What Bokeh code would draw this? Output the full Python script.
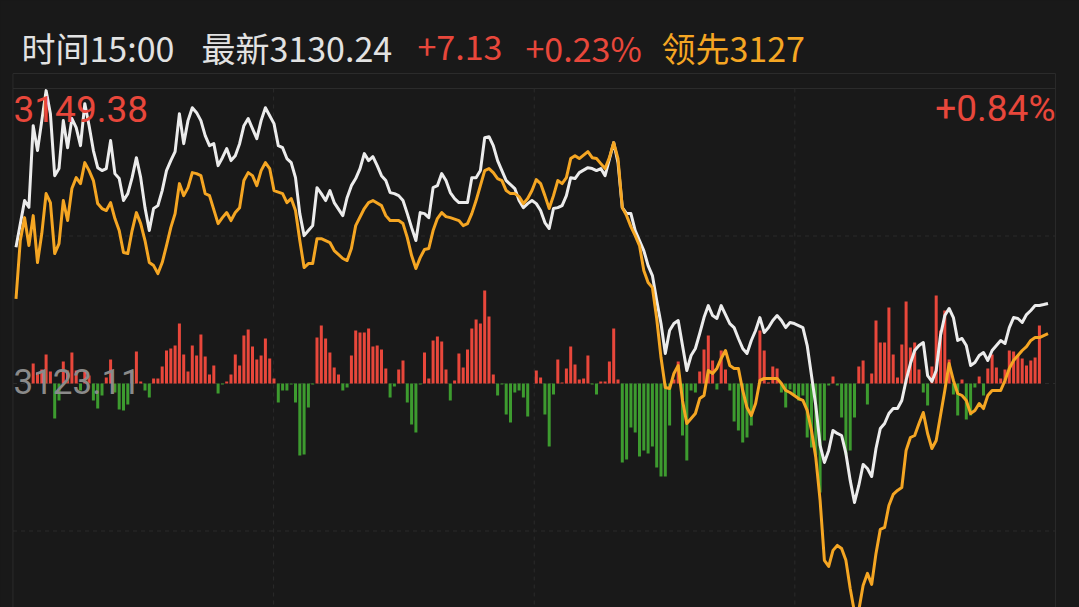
from bokeh.plotting import figure
from bokeh.models import Range1d, Label, ColumnDataSource
from bokeh.embed import file_html
from bokeh.resources import INLINE

# ---------------- data ----------------
prev_close = 3123.11
top_price = 3149.38          # +0.84%
latest = 3130.24
change = "+7.13"
change_pct = "+0.23%"
lead_text = "领先3127"
time_text = "时间15:00"
latest_text = "最新3130.24"
top_pct_text = "+0.84%"

white_min = [0, 2, 3, 4, 5, 6, 7, 8, 9, 10, 11, 12, 13, 14, 15, 16, 17, 18, 19, 20,
             21, 22, 23, 24, 25, 26, 27, 28, 29, 30, 31, 32, 33, 34, 35, 36, 37, 38, 39, 40,
             41, 42, 43, 44, 45, 46, 47, 48, 49, 50, 51, 52, 53, 54, 56, 57, 58, 59, 60, 61,
             62, 63, 64, 65, 66, 67, 68, 69, 70, 71, 72, 73, 74, 76, 77, 78, 79, 80, 81, 82,
             83, 84, 85, 86, 87, 88, 89, 90, 91, 92, 93, 94, 95, 96, 97, 98, 99, 100, 101, 102,
             103, 105, 106, 107, 108, 109, 110, 111, 112, 113, 114, 116, 117, 118, 119, 120, 121, 122, 123, 124,
             125, 126, 127, 128, 129, 130, 131, 133, 134, 135, 136, 137, 139, 140, 141, 142, 143, 144, 145, 146,
             147, 148, 149, 150, 151, 152, 153, 154, 155, 156, 157, 158, 159, 160, 161, 162, 163, 164, 166, 167,
             168, 169, 170, 171, 172, 173, 174, 175, 176, 177, 178, 179, 180, 181, 183, 184, 185, 186, 187, 188,
             189, 190, 191, 192, 193, 194, 195, 196, 197, 198, 199, 200, 201, 202, 203, 204, 205, 206, 207, 208,
             209, 210, 211, 212, 213, 214, 215, 216, 217, 218, 219, 220, 221, 222, 223, 224, 225, 226, 227, 228,
             229, 230, 231, 232, 233, 234, 235, 236, 237, 238, 239, 240]
white_val = [3135.24, 3139.40, 3138.80, 3146.07, 3143.85, 3146.52, 3149.19, 3147.14, 3141.62, 3142.25,
             3146.52, 3144.11, 3146.70, 3145.89, 3144.29, 3148.03, 3146.07, 3143.85, 3142.33, 3142.07,
             3142.25, 3144.74, 3141.80, 3141.36, 3139.40, 3140.02, 3141.44, 3143.22, 3141.44, 3138.77,
             3136.73, 3138.69, 3138.95, 3140.29, 3142.07, 3142.96, 3143.76, 3147.14, 3144.47, 3146.52,
             3147.67, 3147.23, 3146.52, 3145.18, 3144.29, 3144.47, 3142.51, 3143.22, 3144.03, 3142.96,
             3143.40, 3144.47, 3146.07, 3146.70, 3144.92, 3146.52, 3147.67, 3146.96, 3146.25, 3144.29,
             3144.11, 3143.14, 3142.78, 3141.44, 3138.24, 3136.28, 3136.73, 3137.17, 3140.55, 3140.02,
             3139.40, 3140.29, 3139.22, 3138.06, 3139.66, 3140.73, 3141.36, 3142.25, 3143.58, 3142.96,
             3143.31, 3142.51, 3141.62, 3141.18, 3140.11, 3140.02, 3139.84, 3139.40, 3138.24, 3136.99,
             3135.84, 3138.33, 3138.24, 3137.88, 3140.55, 3140.73, 3141.80, 3141.18, 3140.11, 3139.58,
             3139.22, 3139.22, 3141.44, 3141.44, 3142.07, 3145.00, 3145.09, 3144.29, 3142.96, 3142.07,
             3141.18, 3140.47, 3139.40, 3138.77, 3139.13, 3139.40, 3139.13, 3138.51, 3137.44, 3136.91,
             3138.69, 3138.77, 3138.95, 3139.84, 3141.44, 3141.36, 3141.89, 3142.33, 3142.25, 3142.07,
             3142.25, 3141.62, 3144.56, 3142.78, 3138.77, 3138.24, 3138.24, 3136.73, 3135.84, 3134.95,
             3133.61, 3132.72, 3130.50, 3128.45, 3125.78, 3127.83, 3128.45, 3128.72, 3126.49, 3124.27,
             3125.60, 3126.23, 3127.56, 3128.98, 3130.05, 3129.16, 3128.90, 3130.05, 3128.45, 3128.09,
             3127.12, 3126.23, 3125.78, 3126.94, 3127.83, 3128.98, 3127.65, 3128.09, 3128.72, 3129.16,
             3128.72, 3128.09, 3128.54, 3128.45, 3128.09, 3126.49, 3123.82, 3121.15, 3117.59, 3116.08,
             3117.15, 3118.93, 3118.66, 3118.48, 3116.88, 3114.48, 3112.52, 3114.03, 3115.90, 3115.54,
             3114.83, 3117.32, 3119.10, 3119.55, 3120.44, 3120.88, 3120.88, 3121.60, 3123.38, 3124.89,
             3126.05, 3126.49, 3126.76, 3123.82, 3123.29, 3124.27, 3127.38, 3129.16, 3129.79, 3128.98,
             3126.94, 3127.12, 3126.49, 3124.71, 3124.98, 3125.60, 3125.87, 3125.16, 3126.05, 3126.49,
             3126.94, 3126.67, 3128.09, 3128.98, 3128.90, 3128.54, 3129.25, 3129.61, 3130.05, 3130.05,
             3130.14, 3130.24]

orange_min = [0, 1, 2, 3, 4, 5, 6, 7, 8, 9, 10, 11, 12, 13, 14, 15, 16, 17, 18, 19,
              20, 21, 22, 23, 24, 25, 26, 27, 28, 29, 30, 31, 32, 33, 34, 35, 36, 37, 38, 39,
              40, 41, 42, 43, 44, 45, 47, 48, 49, 50, 51, 52, 53, 54, 55, 56, 57, 58, 59, 60,
              62, 63, 64, 65, 66, 67, 68, 69, 70, 71, 73, 74, 76, 77, 78, 79, 81, 82, 83, 85,
              86, 87, 89, 90, 91, 92, 93, 94, 95, 96, 97, 98, 99, 100, 101, 103, 104, 105, 106, 107,
              108, 109, 110, 111, 112, 113, 114, 115, 116, 117, 118, 119, 120, 121, 122, 123, 124, 125, 126, 127,
              128, 129, 130, 131, 133, 134, 135, 136, 137, 138, 139, 140, 141, 142, 143, 144, 145, 146, 147, 148,
              149, 150, 151, 152, 153, 154, 155, 156, 157, 158, 159, 160, 161, 162, 163, 164, 165, 166, 167, 168,
              169, 170, 171, 172, 173, 174, 176, 177, 178, 179, 180, 182, 183, 184, 185, 186, 187, 188, 189, 190,
              191, 192, 193, 194, 195, 196, 197, 198, 199, 200, 201, 202, 203, 204, 205, 206, 207, 208, 209, 210,
              211, 212, 213, 214, 215, 216, 217, 218, 219, 220, 221, 222, 223, 224, 225, 226, 227, 229, 230, 231,
              232, 233, 234, 235, 236, 237, 238, 240]
orange_val = [3130.65, 3135.84, 3137.88, 3135.39, 3138.06, 3133.88, 3136.46, 3140.02, 3139.22, 3134.68,
              3135.57, 3139.40, 3137.62, 3140.47, 3141.44, 3140.91, 3142.78, 3142.07, 3141.18, 3139.13,
              3138.69, 3138.51, 3139.22, 3137.80, 3136.73, 3134.77, 3134.68, 3136.73, 3138.33, 3137.35,
              3135.84, 3133.88, 3133.61, 3132.90, 3133.88, 3135.39, 3136.99, 3138.24, 3140.91, 3139.84,
              3140.55, 3141.89, 3141.80, 3141.62, 3140.02, 3139.84, 3137.35, 3137.88, 3138.33, 3137.62,
              3138.33, 3138.77, 3141.18, 3141.89, 3141.62, 3140.73, 3142.07, 3142.78, 3142.25, 3140.29,
              3140.02, 3139.22, 3139.58, 3138.51, 3135.84, 3133.43, 3133.79, 3133.79, 3136.01, 3136.01,
              3135.66, 3134.95, 3134.24, 3134.06, 3135.13, 3137.17, 3138.69, 3139.22, 3139.40, 3138.95,
              3138.06, 3137.62, 3137.62, 3137.35, 3136.10, 3134.50, 3133.35, 3134.32, 3135.04, 3135.13,
              3136.73, 3137.80, 3138.33, 3137.97, 3137.88, 3137.62, 3137.17, 3137.35, 3138.24, 3139.40,
              3140.73, 3142.07, 3142.25, 3141.89, 3141.36, 3141.18, 3140.29, 3140.02, 3140.02, 3139.75,
              3139.13, 3139.58, 3140.29, 3141.27, 3140.91, 3139.84, 3138.69, 3139.84, 3141.18, 3140.91,
              3141.44, 3143.14, 3143.40, 3143.14, 3143.76, 3143.22, 3143.14, 3142.69, 3142.25, 3143.22,
              3144.56, 3143.14, 3138.77, 3138.06, 3137.08, 3136.28, 3135.39, 3133.17, 3132.10, 3131.65,
              3128.90, 3125.42, 3122.75, 3122.66, 3124.00, 3124.71, 3121.60, 3119.55, 3119.99, 3120.44,
              3121.77, 3122.04, 3124.27, 3124.00, 3124.45, 3125.34, 3126.05, 3124.71, 3124.45, 3124.45,
              3122.49, 3120.97, 3120.26, 3121.33, 3123.38, 3123.56, 3123.56, 3123.56, 3123.11, 3122.49,
              3122.31, 3121.77, 3121.60, 3120.71, 3118.93, 3116.52, 3112.70, 3107.36, 3106.82, 3108.25,
              3108.69, 3108.42, 3107.36, 3104.86, 3102.73, 3102.91, 3105.13, 3106.20, 3105.22, 3107.98,
              3110.12, 3110.29, 3112.25, 3113.23, 3113.59, 3113.85, 3117.15, 3118.30, 3118.48, 3119.55,
              3120.53, 3118.66, 3117.32, 3118.04, 3120.26, 3122.49, 3124.89, 3123.38, 3122.22, 3122.04,
              3121.60, 3120.44, 3120.71, 3121.33, 3120.88, 3122.04, 3122.49, 3122.49, 3123.38, 3124.45,
              3125.16, 3125.60, 3126.05, 3126.40, 3126.94, 3127.20, 3127.20, 3127.56]

bar_start = 4
bar_val = [20, 11, 14, 29, 12, -35, -17, 22, 13, 31, 13, -7, 13, 8, -17, -25, -12, 6, 24, -9,
           -26, -27, -21, 13, 32, 2, -7, -14, 5, 5, 17, 33, 35, 38, 60, 29, 12, 38, 28, 49,
           27, 9, 18, -10, -1, 2, 9, 29, 18, 48, 54, 37, 24, 28, 45, 25, 5, -19, -7, -7,
           -1, -19, -72, -71, -24, -1, 46, 58, 45, 31, 16, 9, -7, -4, 28, 53, 51, 51, 55, 37,
           38, 34, 15, -14, -3, 14, 23, -19, -41, -49, -1, 31, 5, 43, 47, 42, 14, -17, 3, 30,
           16, 34, 55, 64, 60, 93, 67, 9, -12, -1, -31, -39, -9, -7, -14, -33, 0, 13, 6, -31,
           -63, -11, 24, 1, 15, 37, 19, 4, 5, 28, -1, -11, 2, 2, 22, 55, 4, -79, -76, -44,
           -49, -73, -67, -70, -63, -84, -93, -93, -42, 4, 22, -52, -77, -7, -9, 12, 34, 48, 23, -6,
           33, 14, -7, -38, -47, -59, -54, -42, 0, 53, 33, 1, 17, 15, -9, -24, -6, -12, -17, -12,
           -54, -64, -72, -109, -57, -2, 7, -2, -34, -71, -67, -34, 17, 23, -21, 10, 63, 41, 41, 76,
           29, 6, 39, 82, 36, 41, 14, -9, -22, 17, 88, 53, 73, 24, -11, -32, 4, -36, -32, -4,
           7, -12, 15, 29, 16, 5, 14, 33, 32, 28, 25, 18, 23, 26, 58]

assert len(white_min) == len(white_val)
assert len(orange_min) == len(orange_val)

# ---------------- style ----------------
BG = "#191919"
RED = "#e8473b"
GREEN = "#3d9b2f"
WHITE = "#ececec"
ORANGE = "#f5a623"
GRID = "#2b2b2b"
CJK = "Noto Sans CJK SC"
NUM = "Roboto"

W, H = 1079, 607
px_per_min = 4.3
x0_px = 15.5
px_per_pt = 295.0 / (top_price - prev_close)
base_px = 383           # baseline (prev close) from top of canvas

x_range = Range1d(-x0_px / px_per_min, (W - x0_px) / px_per_min)
y_range = Range1d(prev_close - (H - base_px) / px_per_pt, prev_close + base_px / px_per_pt)

p = figure(width=W, height=H, x_range=x_range, y_range=y_range,
           output_backend="svg", toolbar_location=None, min_border=0)
p.axis.visible = False
p.grid.visible = False
p.outline_line_color = None
p.background_fill_color = BG
p.border_fill_color = BG
p.extra_y_ranges = {"bar": Range1d(-(H - base_px), base_px)}

# frame / grid
box_l, box_r = -0.70, 241.74
box_top = prev_close + 310 / px_per_pt
span = top_price - prev_close
levels = [prev_close + span * k / 2 for k in (2, 1, 0, -1, -2)]
p.segment(x0=[box_l], y0=[box_top], x1=[box_r], y1=[box_top], line_color=GRID, line_width=1)
p.segment(x0=[box_l, box_r], y0=[box_top] * 2, x1=[box_l, box_r], y1=[y_range.start] * 2,
          line_color=GRID, line_width=1)
p.segment(x0=[box_l], y0=[levels[0]], x1=[box_r], y1=[levels[0]], line_color=GRID, line_width=1)
p.segment(x0=[box_l] * 4, y0=levels[1:], x1=[box_r] * 4, y1=levels[1:],
          line_color=GRID, line_width=1, line_dash="4 4")
qx = [box_l + (box_r - box_l) * q for q in (0.25, 0.5, 0.75)]
p.segment(x0=qx, y0=[levels[0]] * 3, x1=qx, y1=[y_range.start] * 3,
          line_color=GRID, line_width=1, line_dash="4 4")

# bars
bar_min = list(range(bar_start, bar_start + len(bar_val)))
bar_col = [RED if v >= 0 else GREEN for v in bar_val]
bsrc = ColumnDataSource(dict(x=bar_min, top=bar_val, c=bar_col))
p.vbar(x="x", top="top", bottom=0, width=0.7, fill_color="c", line_color=None,
       source=bsrc, y_range_name="bar")

# lines
p.line(white_min, white_val, line_color=WHITE, line_width=3, line_join="round")
p.line(orange_min, orange_val, line_color=ORANGE, line_width=3, line_join="round")

# header
hy = H - 47
for txt, x, col in [(time_text, 21, "#e2e2e2"), (latest_text, 201, "#e2e2e2"),
                    (change, 417, RED), (change_pct, 525, RED), (lead_text, 661, ORANGE)]:
    p.add_layout(Label(x=x, y=hy, x_units="screen", y_units="screen", text=txt,
                       text_color=col, text_font=CJK, text_font_size="34px",
                       text_baseline="middle", text_align="left"))

p.add_layout(Label(x=13, y=H - 108, x_units="screen", y_units="screen", text=f"{top_price:.2f}",
                   text_color=RED, text_font=NUM, text_font_size="37px",
                   text_baseline="middle", text_align="left"))
p.add_layout(Label(x=1055, y=H - 108, x_units="screen", y_units="screen", text=top_pct_text,
                   text_color=RED, text_font=NUM, text_font_size="37px",
                   text_baseline="middle", text_align="right"))
p.add_layout(Label(x=13, y=H - 381, x_units="screen", y_units="screen", text=f"{prev_close:.2f}",
                   text_color="#8a8a8a", text_font=NUM, text_font_size="35px",
                   text_baseline="middle", text_align="left"))

tpl = ("{% block preamble %}<style>html,body{background:#191919;margin:0;padding:0;"
       "overflow:hidden;}</style>{% endblock %}")
open("out.html", "w").write(file_html(p, INLINE, template=tpl))
